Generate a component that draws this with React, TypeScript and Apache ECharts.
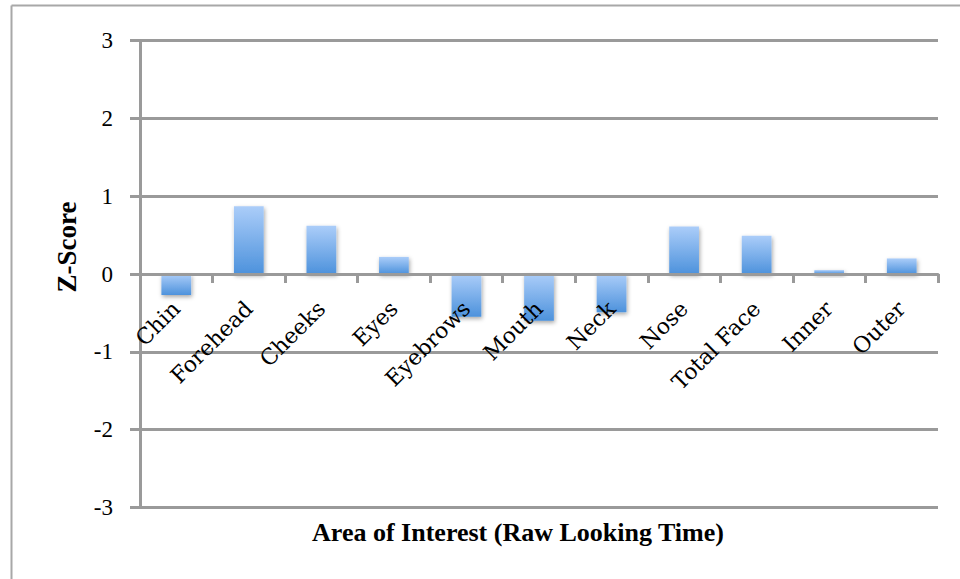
import React, { useEffect, useRef } from "react";
import * as echarts from "echarts";

const categories = ["Chin", "Forehead", "Cheeks", "Eyes", "Eyebrows", "Mouth", "Neck", "Nose", "Total Face", "Inner", "Outer"];
const zScores = [-0.27, 0.87, 0.62, 0.22, -0.55, -0.6, -0.49, 0.61, 0.49, 0.05, 0.2];
const yTicks = { min: -3, max: 3, interval: 1 };
const xTitle = "Area of Interest (Raw Looking Time)";
const yTitle = "Z-Score";

export default function App() {
  const ref = useRef<HTMLDivElement>(null);
  useEffect(() => {
    if (!ref.current) return;
    const chart = echarts.init(ref.current, null, { renderer: "svg" });
    const serif = "Liberation Serif";
    const top = 40.5;
    const bottom = 71.5;
    const plotH = 579 - top - bottom;
    const zeroOffset = -plotH * (0 - yTicks.min) / (yTicks.max - yTicks.min);
    chart.setOption({
      animation: false,
      backgroundColor: "#ffffff",
      grid: { left: 140, right: 22, top, bottom, containLabel: false, outerBoundsMode: "none" },
      xAxis: {
        type: "category",
        data: categories,
        offset: zeroOffset,
        z: 10,
        axisLine: { onZero: false, lineStyle: { color: "#9a9a9a", width: 3 } },
        axisTick: { show: true, length: 9, inside: false, lineStyle: { color: "#9a9a9a", width: 3 } },
        axisLabel: { rotate: 45, margin: 31, color: "#000", fontFamily: "DejaVu Serif", fontSize: 22, interval: 0 },
        splitLine: { show: false },
      },
      yAxis: {
        type: "value",
        min: yTicks.min,
        max: yTicks.max,
        interval: yTicks.interval,
        axisLine: { show: true, lineStyle: { color: "#9a9a9a", width: 3 } },
        axisTick: { show: true, length: 10, lineStyle: { color: "#9a9a9a", width: 3 } },
        axisLabel: { color: "#000", fontFamily: serif, fontSize: 23, margin: 27 },
        splitLine: { show: true, lineStyle: { color: "#9a9a9a", width: 3 } },
      },
      series: [
        {
          type: "bar",
          data: zScores,
          barWidth: "41%",
          z: 2,
          itemStyle: {
            color: new echarts.graphic.LinearGradient(0, 0, 0, 1, [
              { offset: 0, color: "#abcdf9" },
              { offset: 1, color: "#4d92dc" },
            ]),
            shadowColor: "rgba(0,0,0,0.35)",
            shadowBlur: 4,
            shadowOffsetY: 2,
            shadowOffsetX: 1,
          },
        },
      ],
      graphic: [
        { type: "line", shape: { x1: 11.5, y1: 5.5, x2: 960, y2: 5.5 }, style: { stroke: "#a8a8a8", lineWidth: 2 } },
        { type: "line", shape: { x1: 11.5, y1: 5.5, x2: 11.5, y2: 579 }, style: { stroke: "#a8a8a8", lineWidth: 2 } },
        {
          type: "text",
          x: 67,
          y: 247,
          rotation: Math.PI / 2,
          style: { text: yTitle, fontFamily: serif, fontWeight: "bold", fontSize: 27, fill: "#000", align: "center", verticalAlign: "middle" },
        },
        {
          type: "text",
          x: 518,
          y: 532,
          style: { text: xTitle, fontFamily: serif, fontWeight: "bold", fontSize: 26, fill: "#000", align: "center", verticalAlign: "middle" },
        },
      ],
    });
    return () => chart.dispose();
  }, []);
  return <div ref={ref} style={{ position: "absolute", left: 0, top: 0, width: 960, height: 579 }} />;
}
